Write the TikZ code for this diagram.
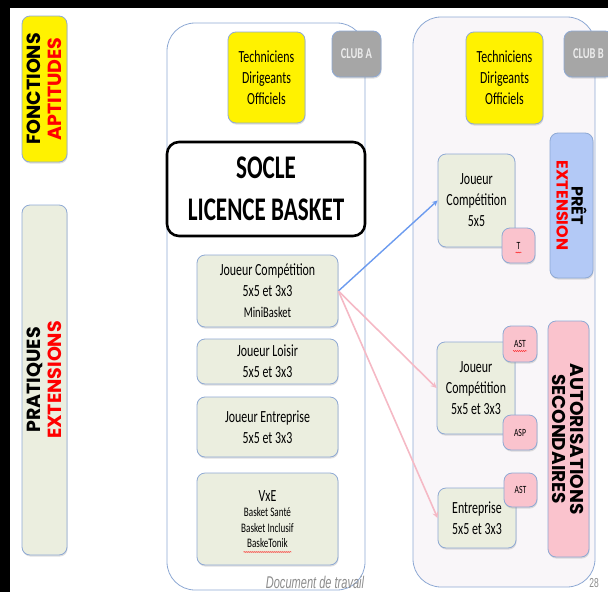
\documentclass[tikz,border=0pt]{standalone}
\usepackage{fontspec}
\setmainfont{Carlito}[FakeStretch=0.7]
\newfontfamily\headfont{Poppins}
\newfontfamily\notefont{Liberation Sans}[FakeStretch=0.65]
\usetikzlibrary{positioning, shadows, calc, decorations.pathmorphing}

\definecolor{boxline}{HTML}{8EA9D4}
\definecolor{sage}{HTML}{EBEEDF}
\definecolor{clubfill}{HTML}{F9F6F9}
\definecolor{pinkbox}{HTML}{FAC3CD}
\definecolor{bluebox}{HTML}{B3C9F6}
\definecolor{greybox}{HTML}{A6A6A6}
\definecolor{bluearrow}{HTML}{6C9BEF}
\definecolor{pinkarrow}{HTML}{F5B9C5}

\begin{document}
\begin{tikzpicture}[x=1pt, y=-1pt, >=stealth,
    shadowed/.style={drop shadow={opacity=0.25, shadow xshift=0.6pt, shadow yshift=-1.6pt}},
    box/.style={draw=boxline, line width=0.8pt, rounded corners=8pt, align=center, inner sep=0pt,
                shadowed, font=\fontsize{17}{21}\selectfont},
    club/.style={draw=boxline, line width=0.8pt, rounded corners=28pt, inner sep=0pt},
    tag/.style={box, fill=pinkbox, font=\fontsize{11}{13}\selectfont},
    band/.style={box, font=\headfont\bfseries\fontsize{18}{15}\selectfont},
    squiggle/.style={red, line width=0.4pt, decorate, decoration={snake, amplitude=0.5pt, segment length=2pt}}]
\clip (0,0) rectangle (608,592);
\fill[black] (0,0) rectangle (608,8);
\fill[black] (0,0) rectangle (10,592);

% left bands
\node[band, fill=yellow, minimum width=45, minimum height=146] (fonc) at (44.5,89) {};
\node[rotate=90, align=center, font=\headfont\bfseries\fontsize{19}{21}\selectfont] at (fonc.center)
    {FONCTIONS\\\textcolor{red}{APTITUDES}};
\node[band, fill=sage, minimum width=45, minimum height=350] (prat) at (44.5,380) {};
\node[rotate=90, align=center, font=\headfont\bfseries\fontsize{19}{21}\selectfont] at (prat.center)
    {PRATIQUES\\\textcolor{red}{EXTENSIONS}};

% club A
\node[club, fill=white, minimum width=198, minimum height=567] (clubA) at (266,306.5) {};
\node[box, fill=yellow, minimum width=77, minimum height=91] (techA) at (266.5,77.5)
    {Techniciens\\Dirigeants\\Officiels};
\node[box, fill=greybox, text=white!92!black, minimum width=49, minimum height=46,
    font=\bfseries\fontsize{15}{17}\selectfont] (labA) at (356.5,54) {CLUB A};
\node[draw=black, line width=2.6pt, rounded corners=12pt, fill=white, align=center, inner sep=0pt,
    minimum width=198, minimum height=94, font=\bfseries\fontsize{33}{42}\selectfont] (socle) at (266,189)
    {SOCLE\\LICENCE BASKET};
\node[box, fill=sage, minimum width=141, minimum height=72] (jcA) at (267.5,291)
    {Joueur Compétition\\5x5 et 3x3\\{\fontsize{15}{17}\selectfont MiniBasket}};
\node[box, fill=sage, minimum width=141, minimum height=45] (loisir) at (267.5,361.5)
    {Joueur Loisir\\5x5 et 3x3};
\node[box, fill=sage, minimum width=141, minimum height=60] (entA) at (267.5,427)
    {Joueur Entreprise\\5x5 et 3x3};
\node[box, fill=sage, minimum width=141, minimum height=92, font=\fontsize{13}{15.5}\selectfont] (vxe) at (267.5,519)
    {{\fontsize{17}{17}\selectfont VxE}\\Basket Santé\\Basket Inclusif\\BaskeTonik};
\node[text=black!45, font=\notefont\itshape\fontsize{17}{17}\selectfont] (doc) at (315,582) {Document de travail};

% club B
\node[club, fill=clubfill, minimum width=182, minimum height=570] (clubB) at (504,302) {};
\node[box, fill=yellow, minimum width=77, minimum height=92] (techB) at (504.5,78)
    {Techniciens\\Dirigeants\\Officiels};
\node[box, fill=greybox, text=white!92!black, minimum width=49, minimum height=46,
    font=\bfseries\fontsize{15}{17}\selectfont] (labB) at (588.5,54) {CLUB B};
\node[box, fill=bluebox, minimum width=43, minimum height=145] (pret) at (571.5,205.5) {};
\node[rotate=-90, align=center, font=\headfont\bfseries\fontsize{16}{15}\selectfont] at (pret.center)
    {PRÊT\\\textcolor{red}{EXTENSION}};
\node[box, fill=pinkbox, minimum width=41, minimum height=236] (auto) at (568.5,439) {};
\node[rotate=-90, align=center, font=\headfont\bfseries\fontsize{18.5}{18}\selectfont] at (auto.center)
    {AUTORISATIONS\\SECONDAIRES};
\node[box, fill=sage, minimum width=77, minimum height=93] (jcB) at (476.5,200.5)
    {Joueur\\Compétition\\5x5};
\node[tag, minimum width=33, minimum height=35] (tB) at (518.5,245.5) {T};
\node[box, fill=sage, minimum width=78, minimum height=92] (jcC) at (476,388)
    {Joueur\\Compétition\\5x5 et 3x3};
\node[tag, minimum width=34, minimum height=36] (astA) at (520,344) {AST};
\node[tag, minimum width=34, minimum height=35] (asp) at (520,432.5) {ASP};
\node[box, fill=sage, minimum width=78, minimum height=60] (entB) at (477,518)
    {Entreprise\\5x5 et 3x3};
\node[tag, minimum width=33, minimum height=34] (astB) at (520.5,490) {AST};
\node[text=black!45, font=\notefont\fontsize{13}{13}\selectfont] (page) at (594,583) {28};

% spelling marks
\draw[squiggle] ($(tB.center)+(-3,7)$) -- ++(6,0);
\draw[squiggle] ($(astA.center)+(-7,7)$) -- ++(14,0);
\draw[squiggle] ($(vxe.center)+(-24,33)$) -- ++(48,0);

% links
\draw[->, bluearrow, line width=1.4pt] (jcA.east) -- (jcB.west);
\draw[->, pinkarrow, line width=1.6pt] (jcA.east) -- (jcC.west);
\draw[->, pinkarrow, line width=1.6pt] (jcA.east) -- (entB.west);
\end{tikzpicture}
\end{document}
